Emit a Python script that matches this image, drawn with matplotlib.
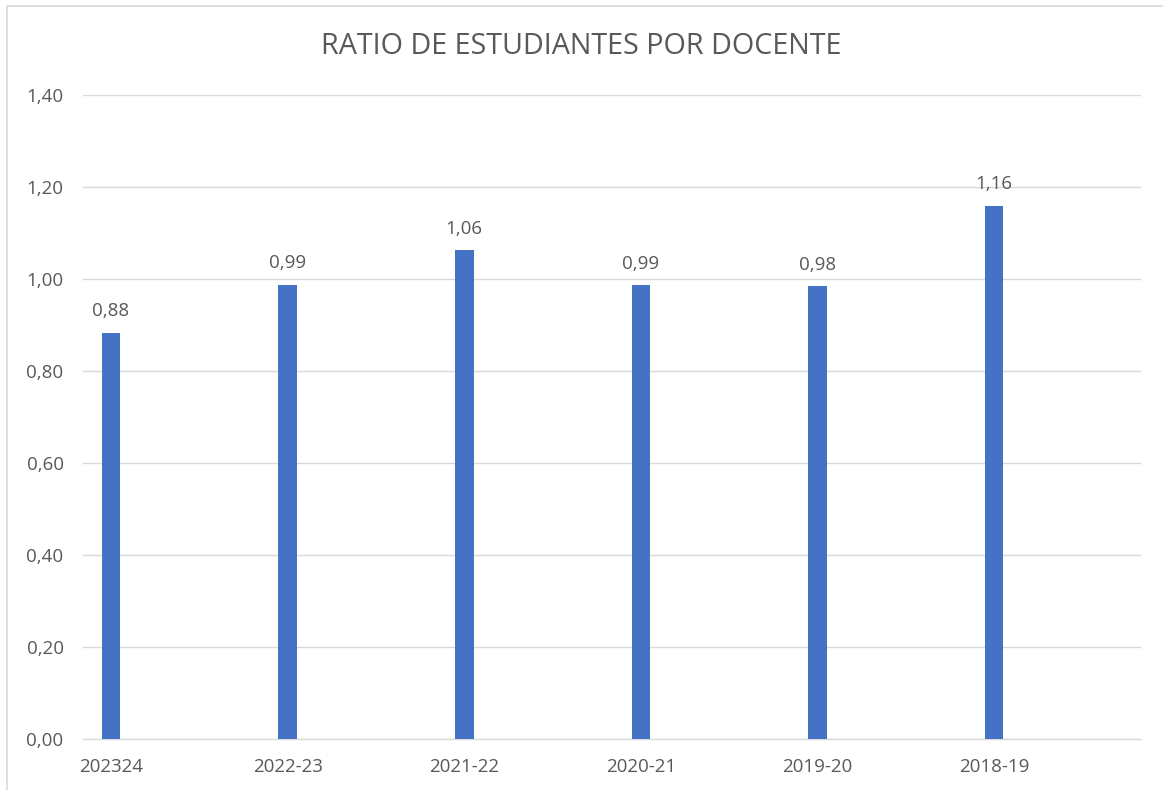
import matplotlib
matplotlib.use('Agg')
import matplotlib.pyplot as plt
from matplotlib.patches import Rectangle
from matplotlib.ticker import FuncFormatter

cursos = ["202324", "2022-23", "2021-22", "2020-21", "2019-20", "2018-19"]
ratios = [0.883, 0.987, 1.062, 0.986, 0.984, 1.159]

BAR_COLOR = "#4472C4"
TEXT_COLOR = "#595959"
GRID_COLOR = "#d9d9d9"

plt.rcParams['font.family'] = ['Open Sans', 'DejaVu Sans']

fig = plt.figure(figsize=(11.63, 7.90), dpi=100)
fig.patch.set_facecolor("white")

# thin chart border like a spreadsheet chart area
fig.patches.append(Rectangle((7 / 1163, -0.01), 1.1, 1 - 6 / 790 + 0.01,
                             transform=fig.transFigure, fill=False,
                             edgecolor=GRID_COLOR, linewidth=1.2))

ax = fig.add_axes([83 / 1163, 51 / 790, 1058 / 1163, 644 / 790])

x = list(range(len(cursos)))
bars = ax.bar(x, ratios, width=0.105, color=BAR_COLOR, zorder=3)

for b, v in zip(bars, ratios):
    ax.annotate(f"{v:.2f}".replace(".", ","),
                (b.get_x() + b.get_width() / 2, v),
                xytext=(0, 9), textcoords="offset points",
                ha="center", va="bottom", fontsize=13.5, color=TEXT_COLOR)

ax.set_xlim(-0.1586, 5.832)
ax.set_ylim(0, 1.4)
ax.set_yticks([0, 0.2, 0.4, 0.6, 0.8, 1.0, 1.2, 1.4])
ax.yaxis.set_major_formatter(FuncFormatter(lambda v, p: f"{v:.2f}".replace(".", ",")))
ax.set_xticks(x)
ax.set_xticklabels(cursos)

ax.grid(axis="y", color=GRID_COLOR, linewidth=1.0, zorder=0)
for s in ["top", "right", "left"]:
    ax.spines[s].set_visible(False)
ax.spines["bottom"].set_color(GRID_COLOR)
ax.spines["bottom"].set_linewidth(1.0)
ax.spines["bottom"].set_zorder(1)

ax.tick_params(axis="both", length=0, labelsize=13.5, labelcolor=TEXT_COLOR)
ax.tick_params(axis="x", pad=14)
ax.tick_params(axis="y", pad=14)

fig.text(0.5, 1 - 46 / 790, "RATIO DE ESTUDIANTES POR DOCENTE",
         ha="center", va="center", fontsize=20.7, color=TEXT_COLOR)

fig.savefig("out.png", dpi=100)
